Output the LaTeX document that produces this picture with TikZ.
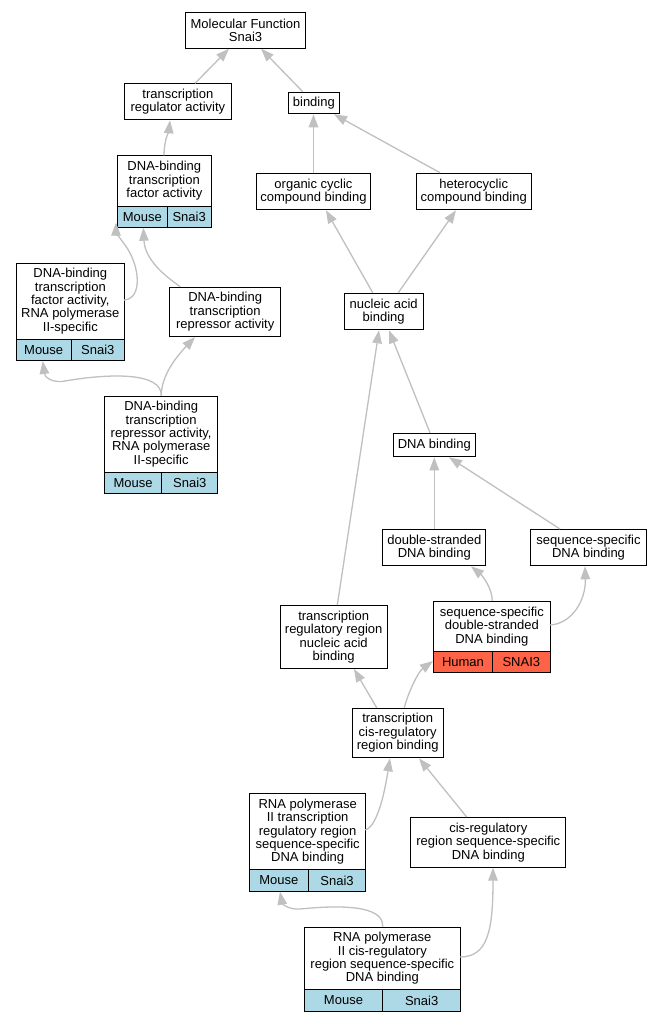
\documentclass[tikz,border=0pt]{standalone}
\usepackage{fontspec}
\setmainfont{Liberation Sans}
\usetikzlibrary{arrows.meta}
\definecolor{edgegray}{RGB}{192,192,192}
\definecolor{mouseblue}{RGB}{173,216,230}
\definecolor{humanred}{RGB}{255,99,71}
\newcommand{\gofont}{\fontsize{13}{13.4}\selectfont}
\begin{document}
\begin{tikzpicture}[x=1pt,y=-1pt,
  box/.style={draw=black, line width=1pt, fill=white, inner sep=0pt, align=center, font=\gofont, anchor=north west},
  mcell/.style={box, fill=mouseblue},
  hcell/.style={box, fill=humanred},
  edge/.style={draw=edgegray, line width=1.3pt, -{Triangle[length=13pt,width=9.5pt]}}]
\fill[white] (0,0) rectangle (661,1021);
\useasboundingbox (0,0) rectangle (661,1021);

% nodes
\node[box, minimum width=120pt, minimum height=35.4pt] (n1) at (185,12.3) {Molecular Function\\Snai3};
\node[box, minimum width=106.7pt, minimum height=36pt] (n2) at (124,83.3) {transcription\\regulator activity};
\node[box, minimum width=51.3pt, minimum height=21.6pt] (n3) at (287.7,91.7) {binding};
\node[box, minimum width=93.7pt, minimum height=50.4pt] (n4) at (117,155.3) {DNA-binding\\transcription\\factor activity};
\node[mcell, minimum width=49.7pt, minimum height=21pt] (n4a) at (117,205.7) {Mouse};
\node[mcell, minimum width=44pt, minimum height=21pt] (n4b) at (166.7,205.7) {Snai3};
\node[box, minimum width=114pt, minimum height=36.6pt] (n5) at (256,172.7) {organic cyclic\\compound binding};
\node[box, minimum width=115pt, minimum height=36.6pt] (n6) at (415.7,172.7) {heterocyclic\\compound binding};
\node[box, minimum width=108.3pt, minimum height=76pt] (n7) at (15.7,262.7) {DNA-binding\\transcription\\factor activity,\\RNA polymerase\\II-specific};
\node[mcell, minimum width=55pt, minimum height=21.3pt] (n7a) at (15.7,338.7) {Mouse};
\node[mcell, minimum width=53.3pt, minimum height=21.3pt] (n7b) at (70.7,338.7) {Snai3};
\node[box, minimum width=110.7pt, minimum height=49.3pt] (n8) at (169.3,286.7) {DNA-binding\\transcription\\repressor activity};
\node[box, minimum width=79pt, minimum height=36.6pt] (n9) at (343.7,292.7) {nucleic acid\\binding};
\node[box, minimum width=113.3pt, minimum height=76pt] (n10) at (104,395.7) {DNA-binding\\transcription\\repressor activity,\\RNA polymerase\\II-specific};
\node[mcell, minimum width=57.3pt, minimum height=21.6pt] (n10a) at (104,471.7) {Mouse};
\node[mcell, minimum width=56pt, minimum height=21.6pt] (n10b) at (161.3,471.7) {Snai3};
\node[box, minimum width=82.3pt, minimum height=23.6pt] (n11) at (392.7,432.7) {DNA binding};
\node[box, minimum width=103pt, minimum height=36.3pt] (n12) at (382.3,529) {double-stranded\\DNA binding};
\node[box, minimum width=115.4pt, minimum height=36.3pt] (n13) at (530.3,529) {sequence-specific\\DNA binding};
\node[box, minimum width=107pt, minimum height=63pt] (n14) at (279.7,605) {transcription\\regulatory region\\nucleic acid\\binding};
\node[box, minimum width=116.7pt, minimum height=49.7pt] (n15) at (433,601) {sequence-specific\\double-stranded\\DNA binding};
\node[hcell, minimum width=59pt, minimum height=21.6pt] (n15a) at (433,650.7) {Human};
\node[hcell, minimum width=57.7pt, minimum height=21.6pt] (n15b) at (492,650.7) {SNAI3};
\node[box, minimum width=91pt, minimum height=49.6pt] (n16) at (351.7,707.7) {transcription\\cis-regulatory\\region binding};
\node[box, minimum width=116.3pt, minimum height=76pt] (n17) at (249,793.3) {RNA polymerase\\II transcription\\regulatory region\\sequence-specific\\DNA binding};
\node[mcell, minimum width=58.7pt, minimum height=21.4pt] (n17a) at (249,869.3) {Mouse};
\node[mcell, minimum width=57.6pt, minimum height=21.4pt] (n17b) at (307.7,869.3) {Snai3};
\node[box, minimum width=155pt, minimum height=49.7pt] (n18) at (410.3,817) {cis-regulatory\\region sequence-specific\\DNA binding};
\node[box, minimum width=156.3pt, minimum height=62.3pt] (n19) at (303.7,926.7) {RNA polymerase\\II cis-regulatory\\region sequence-specific\\DNA binding};
\node[mcell, minimum width=78.6pt, minimum height=21.7pt] (n19a) at (303.7,989) {Mouse};
\node[mcell, minimum width=77.7pt, minimum height=21.7pt] (n19b) at (382.3,989) {Snai3};

% edges
\draw[edge] ([shift={(71,0)}]n2.north west) -- ([shift={(44,0)}]n1.south west);
\draw[edge] ([shift={(15,0)}]n3.north west) -- ([shift={(76,0)}]n1.south west);
\draw[edge] ([shift={(47,0)}]n4.north west) .. controls +(0,-15) and +(-1,10) .. ([shift={(46,0)}]n2.south west);
\draw[edge] (n5.north) -- (n5.north |- n3.south);
\draw[edge] ([shift={(24.3,0)}]n6.north west) -- ([shift={(-6,0)}]n3.south east);
\draw[edge] ([shift={(108.3,37.3)}]n7.north west) .. controls (143,299) and (140,265) .. (125,245) .. controls (119,237) and (116,232) .. ([shift={(-1,17)}]n4a.north west);
\draw[edge] ([shift={(11,0)}]n8.north west) .. controls (165,276) and (145,260) .. ([shift={(26.3,0)}]n4a.south west);
\draw[edge] ([shift={(29,0)}]n9.north west) -- ([shift={(70,0)}]n5.south west);
\draw[edge] ([shift={(54.6,0)}]n9.north west) -- ([shift={(40.3,0)}]n6.south west);
\draw[edge] ([shift={(57.3,0)}]n10.north west) .. controls (162,372) and (110,373) .. (62,381.5) .. controls (52,382) and (45,378) .. ([shift={(27,0)}]n7a.south west);
\draw[edge] ([shift={(57.3,0)}]n10.north west) .. controls (161,375) and (178,355) .. ([shift={(25.7,0)}]n8.south west);
\draw[edge] ([shift={(37.3,0)}]n11.north west) -- ([shift={(45.3,0)}]n9.south west);
\draw[edge] ([shift={(57.6,0)}]n14.north west) -- ([shift={(35.3,0)}]n9.south west);
\draw[edge] (n12.north) -- (n12.north |- n11.south);
\draw[edge] ([shift={(29.7,0)}]n13.north west) -- ([shift={(56.3,0)}]n11.south west);
\draw[edge] ([shift={(59.3,0)}]n15.north west) .. controls +(0,-13) and +(11,9) .. ([shift={(88.7,0)}]n12.south west);
\draw[edge] ([shift={(116.7,24)}]n15.north west) .. controls (572,624) and (586,600) .. ([shift={(54.7,0)}]n13.south west);
\draw[edge] ([shift={(25,0)}]n16.north west) -- ([shift={(74.3,0)}]n14.south west);
\draw[edge] ([shift={(52.6,0)}]n16.north west) .. controls (408,693) and (418,672) .. ([shift={(0,10.3)}]n15a.north west);
\draw[edge] ([shift={(116.3,36.7)}]n17.north west) .. controls (378,826) and (385,790) .. ([shift={(38.3,0)}]n16.south west);
\draw[edge] ([shift={(56.4,0)}]n18.north west) -- ([shift={(67.3,0)}]n16.south west);
\draw[edge] ([shift={(79,0)}]n19.north west) .. controls (384,905) and (340,905) .. (300,909) .. controls (288,910) and (282,903) .. ([shift={(31,0)}]n17a.south west);
\draw[edge] ([shift={(156.3,30.3)}]n19.north west) .. controls (488,957) and (493,930) .. ([shift={(82.7,0)}]n18.south west);
\end{tikzpicture}
\end{document}
